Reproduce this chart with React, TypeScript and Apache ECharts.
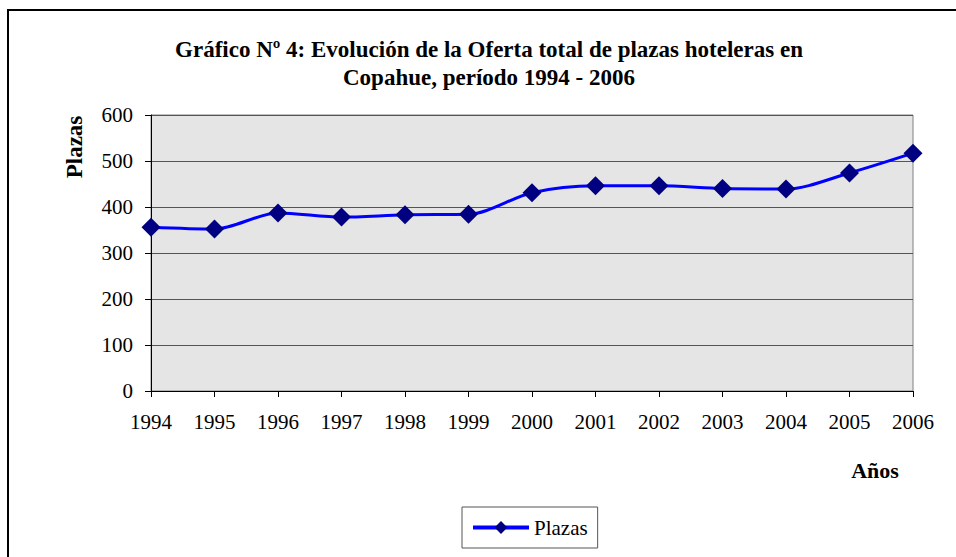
import React, { useEffect, useRef } from "react";
import * as echarts from "echarts";

const years = ["1994", "1995", "1996", "1997", "1998", "1999", "2000", "2001", "2002", "2003", "2004", "2005", "2006"];
const plazas = [356, 352, 387, 378, 383, 384, 431, 446, 446, 440, 439, 474, 517];
const titleText = "Gráfico Nº 4: Evolución de la Oferta total de plazas hoteleras en\nCopahue, período 1994 - 2006";
const seriesName = "Plazas";
const yName = "Plazas";
const xName = "Años";

const serif = "'Liberation Serif', 'Times New Roman', serif";

export default function App() {
  const ref = useRef<HTMLDivElement>(null);
  useEffect(() => {
    if (!ref.current) return;
    const chart = echarts.init(ref.current, null, { renderer: "svg" });
    chart.setOption({
      animation: false,
      backgroundColor: "#ffffff",
      title: {
        text: titleText,
        left: 489,
        top: 35,
        textAlign: "center",
        padding: 0,
        textStyle: {
          fontFamily: serif,
          fontWeight: "bold",
          fontSize: 23,
          lineHeight: 28,
          color: "#000",
        },
      },
      grid: {
        left: 151,
        top: 115,
        right: 43,
        bottom: 166,
        show: true,
        backgroundColor: "#e5e5e5",
        borderColor: "#808080",
        borderWidth: 1,
      },
      legend: {
        data: [seriesName],
        left: 462,
        top: 507,
        orient: "horizontal",
        padding: [10, 10, 10, 9],
        borderColor: "#555",
        borderWidth: 1,
        itemWidth: 56,
        itemHeight: 16,
        itemGap: 5,
        lineStyle: { width: 4, color: "#0000ff" },
        textStyle: { fontFamily: serif, fontSize: 21, color: "#000" },
      },
      xAxis: {
        type: "category",
        data: years,
        boundaryGap: false,
        axisLine: { lineStyle: { color: "#000", width: 1 } },
        axisTick: { show: true, length: 6, lineStyle: { color: "#000" } },
        axisLabel: { fontFamily: serif, fontSize: 21, color: "#000", margin: 20 },
        splitLine: { show: false },
      },
      yAxis: {
        type: "value",
        min: 0,
        max: 600,
        interval: 100,
        axisLine: { show: true, lineStyle: { color: "#000", width: 1 } },
        axisTick: { show: true, length: 6, lineStyle: { color: "#000" } },
        axisLabel: { fontFamily: serif, fontSize: 21, color: "#000", margin: 18 },
        splitLine: { show: true, lineStyle: { color: "#555", width: 1 } },
      },
      series: [
        {
          name: seriesName,
          type: "line",
          data: plazas,
          smooth: 0.3,
          symbol: "diamond",
          symbolSize: 19,
          lineStyle: { color: "#0000ff", width: 3 },
          itemStyle: { color: "#000080", borderWidth: 0 },
        },
      ],
      graphic: [
        {
          type: "rect",
          shape: { x: 8, y: 10, width: 1000, height: 600 },
          style: { fill: "none", stroke: "#000", lineWidth: 2 },
          silent: true,
        },
        {
          type: "text",
          x: 74,
          y: 147,
          rotation: Math.PI / 2,
          style: {
            text: yName,
            fontFamily: serif,
            fontWeight: "bold",
            fontSize: 23,
            fill: "#000",
            align: "center",
            verticalAlign: "middle",
          },
        },
        {
          type: "text",
          x: 875,
          y: 470,
          style: {
            text: xName,
            fontFamily: serif,
            fontWeight: "bold",
            fontSize: 22,
            fill: "#000",
            align: "center",
            verticalAlign: "middle",
          },
        },
      ],
    });
    return () => chart.dispose();
  }, []);
  return (
    <div
      ref={ref}
      style={{ position: "fixed", left: 0, top: 0, width: 956, height: 557 }}
    />
  );
}
